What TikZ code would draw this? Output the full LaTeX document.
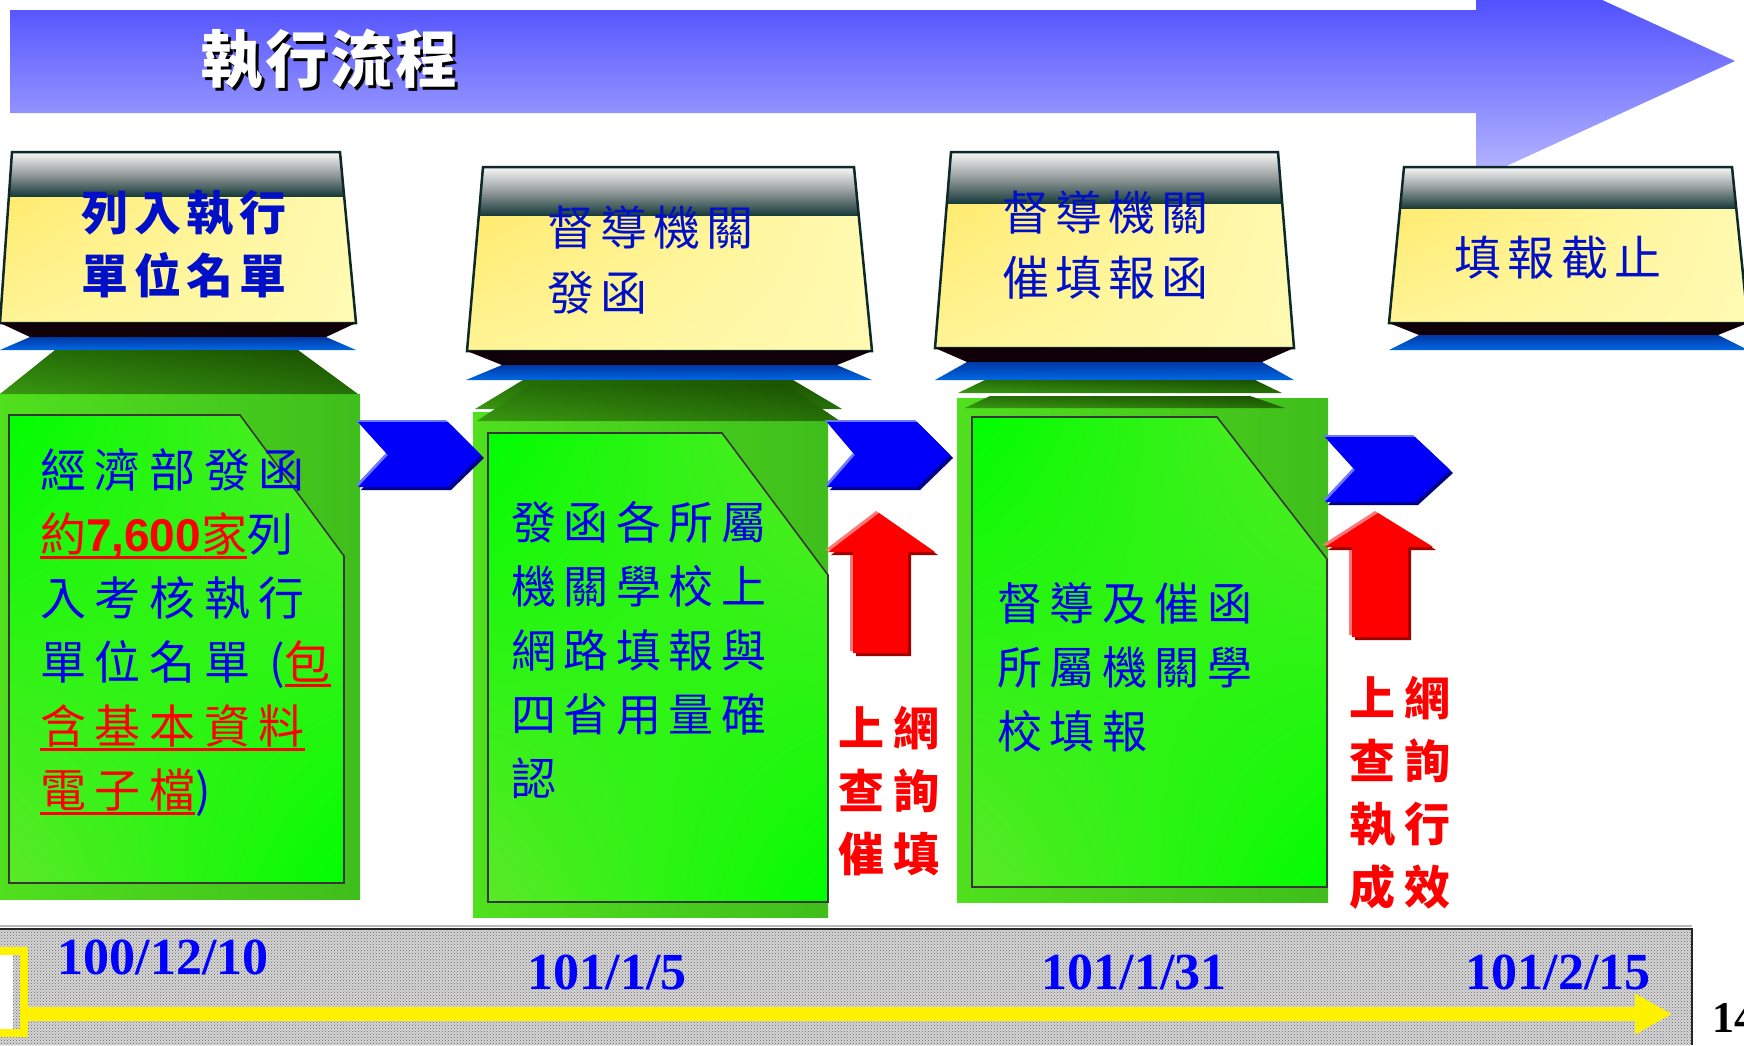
\documentclass[tikz,border=0pt]{standalone}
\usepackage{fontspec}
\usepackage{xcolor}
\setmainfont{Liberation Serif}
\newfontfamily\cjk{Noto Sans CJK TC}
\newfontfamily\arialfont{Liberation Sans}
% 底線(粗線,位於基線下方)
\newsavebox{\ulinebin}
\newcommand{\ulinebox}[1]{\sbox{\ulinebin}{#1}\rlap{\rule[-8pt]{\wd\ulinebin}{3pt}}\usebox{\ulinebin}}
% 顏色
\definecolor{arrtop}{RGB}{48,48,255}
\definecolor{arrbot}{RGB}{185,185,255}
\definecolor{hdrline}{RGB}{12,40,40}
\definecolor{bandtop}{RGB}{248,248,248}
\definecolor{bandmid}{RGB}{150,156,156}
\definecolor{bandbot}{RGB}{25,60,60}
\definecolor{yelA}{RGB}{255,232,96}
\definecolor{yelB}{RGB}{255,250,178}
\definecolor{yelC}{RGB}{255,244,150}
\definecolor{shadowk}{RGB}{16,0,8}
\definecolor{blueA}{RGB}{0,56,165}
\definecolor{blueB}{RGB}{0,104,226}
\definecolor{gtopA}{RGB}{26,78,0}
\definecolor{gtopB}{RGB}{38,112,8}
\definecolor{gtopC}{RGB}{58,152,18}
\definecolor{gbox}{RGB}{80,224,30}
\definecolor{gboxd}{RGB}{64,190,28}
\definecolor{gdocA}{RGB}{0,255,0}
\definecolor{gdocB}{RGB}{92,232,40}
\definecolor{docline}{RGB}{55,55,55}
\definecolor{chev}{RGB}{0,0,250}
\definecolor{chevlt}{RGB}{110,120,255}
\definecolor{chevdk}{RGB}{0,0,140}
\definecolor{arrlt}{RGB}{255,120,120}
\definecolor{arrdk}{RGB}{160,0,0}
\definecolor{hdrblue}{RGB}{0,16,200}
\definecolor{txtblue}{RGB}{0,0,235}
\definecolor{dateblue}{RGB}{0,0,255}
\definecolor{tlgray}{RGB}{214,214,214}
\usetikzlibrary{arrows.meta,patterns,shadings}

\begin{document}
\begin{tikzpicture}[x=1pt, y=-1pt,
    every node/.style={inner sep=0pt, outer sep=0pt},
    hdrtext/.style={font=\cjk\fontsize{47}{65}\selectfont\addfontfeature{LetterSpace=13}, text=hdrblue, align=left},
    hdrbold/.style={font=\cjk\bfseries\fontsize{47}{63}\selectfont\addfontfeature{LetterSpace=12}, text=hdrblue, align=center},
    bodytext/.style={font=\cjk\fontsize{45}{64}\selectfont\addfontfeature{LetterSpace=17}, text=txtblue, align=left},
    bodywide/.style={font=\cjk\fontsize{46}{64}\selectfont\addfontfeature{LetterSpace=19}, text=txtblue, align=left},
    notetext/.style={font=\cjk\bfseries\fontsize{46}{63}\selectfont\addfontfeature{LetterSpace=20}, text=red, align=center},
    datetext/.style={font=\bfseries\fontsize{52}{60}\selectfont, text=dateblue},
    hdredge/.style={draw=hdrline, line width=2.5pt},
    docedge/.style={draw=docline, line width=1.6pt}]
    \useasboundingbox (0,0) rectangle (1744,1045);
    \clip (0,0) rectangle (1744,1045);
    \fill[white] (0,0) rectangle (1744,1045);

    % 頂部大箭頭與標題
    \shade[top color=arrtop, bottom color=arrbot]
        (10,10) -- (1476,10) -- (1476,-58) -- (1735,61) -- (1476,180) -- (1476,113) -- (10,113) -- cycle;
    \node[font=\cjk\bfseries\fontsize{62}{70}\selectfont\addfontfeature{LetterSpace=5}, text=black] (titleshadow) at (332,62) {執行流程};
    \node[font=\cjk\bfseries\fontsize{62}{70}\selectfont\addfontfeature{LetterSpace=5}, text=white] (title) at (329,59) {執行流程};

    % 第一站:列入執行單位名單
    \begin{scope}
        \clip (12,152) -- (340,152) -- (356,323) -- (0,323) -- cycle;
        \shade[upper left=yelA, upper right=yelB, lower left=yelC, lower right=yelB] (0,152) rectangle (356,323);
        \shade[top color=bandtop, bottom color=bandbot, middle color=bandmid] (0,152) rectangle (356,196);
    \end{scope}
    \draw[hdredge] (12,152) -- (340,152) -- (356,323) -- (0,323) -- cycle;
    \fill[shadowk] (0,323) -- (356,323) -- (326,337) -- (30,337) -- cycle;
    \shade[top color=blueA, bottom color=blueB] (30,337) -- (326,337) -- (356,350) -- (0,350) -- cycle;

    % 第二站:督導機關發函
    \begin{scope}
        \clip (483,167) -- (854,167) -- (872,351) -- (467,351) -- cycle;
        \shade[upper left=yelA, upper right=yelB, lower left=yelC, lower right=yelB] (467,167) rectangle (872,351);
        \shade[top color=bandtop, bottom color=bandbot, middle color=bandmid] (467,167) rectangle (872,215);
    \end{scope}
    \draw[hdredge] (483,167) -- (854,167) -- (872,351) -- (467,351) -- cycle;
    \fill[shadowk] (467,351) -- (872,351) -- (837,365) -- (502,365) -- cycle;
    \shade[top color=blueA, bottom color=blueB] (502,365) -- (837,365) -- (872,380) -- (466,380) -- cycle;

    % 第三站:督導機關催填報函
    \begin{scope}
        \clip (951,152) -- (1278,152) -- (1294,348) -- (935,348) -- cycle;
        \shade[upper left=yelA, upper right=yelB, lower left=yelC, lower right=yelB] (935,152) rectangle (1294,348);
        \shade[top color=bandtop, bottom color=bandbot, middle color=bandmid] (935,152) rectangle (1294,203);
    \end{scope}
    \draw[hdredge] (951,152) -- (1278,152) -- (1294,348) -- (935,348) -- cycle;
    \fill[shadowk] (935,348) -- (1294,348) -- (1262,362) -- (967,362) -- cycle;
    \shade[top color=blueA, bottom color=blueB] (967,362) -- (1262,362) -- (1294,380) -- (935,380) -- cycle;

    % 第四站:填報截止
    \begin{scope}
        \clip (1404,167) -- (1732,167) -- (1748,323) -- (1389,323) -- cycle;
        \shade[upper left=yelA, upper right=yelB, lower left=yelC, lower right=yelB] (1389,167) rectangle (1748,323);
        \shade[top color=bandtop, bottom color=bandbot, middle color=bandmid] (1389,167) rectangle (1748,208);
    \end{scope}
    \draw[hdredge] (1404,167) -- (1732,167) -- (1748,323) -- (1389,323) -- cycle;
    \fill[shadowk] (1389,323) -- (1748,323) -- (1718,335) -- (1419,335) -- cycle;
    \shade[top color=blueA, bottom color=blueB] (1419,335) -- (1718,335) -- (1748,350) -- (1389,350) -- cycle;

    % 綠色文件框
    \shade[left color=gbox, right color=gboxd] (0,394) rectangle (360,899);
    \shade[upper left=gtopB, upper right=gtopA, lower left=gtopC, lower right=gtopB] (55,350) -- (298,350) -- (358,394) -- (0,394) -- cycle;
    \shade[upper left=gdocA, lower right=gdocA, upper right=gdocB, lower left=gdocB]
        (9,415) -- (240,415) -- (344,556) -- (344,883) -- (9,883) -- cycle;
    \draw[docedge] (9,415) -- (240,415) -- (344,556) -- (344,883) -- (9,883) -- cycle;

    \shade[left color=gbox, right color=gboxd] (473,412) rectangle (828,917);
    \shade[upper left=gtopB, upper right=gtopA, lower left=gtopC, lower right=gtopB] (523,380) -- (793,380) -- (842,409) -- (475,409) -- cycle;
    \shade[upper left=gtopB, upper right=gtopA, lower left=gtopC, lower right=gtopB] (532,384) -- (785,384) -- (840,421) -- (477,421) -- cycle;
    \shade[upper left=gdocA, lower right=gdocA, upper right=gdocB, lower left=gdocB]
        (488,433) -- (722,433) -- (828,575) -- (828,902) -- (488,902) -- cycle;
    \draw[docedge] (488,433) -- (722,433) -- (828,575) -- (828,902) -- (488,902) -- cycle;

    \shade[left color=gbox, right color=gboxd] (957,398) rectangle (1328,902);
    \shade[upper left=gtopB, upper right=gtopA, lower left=gtopC, lower right=gtopB] (985,380) -- (1255,380) -- (1282,393) -- (958,393) -- cycle;
    \shade[upper left=gtopB, upper right=gtopA, lower left=gtopC, lower right=gtopB] (990,396) -- (1250,396) -- (1285,408) -- (965,408) -- cycle;
    \shade[upper left=gdocA, lower right=gdocA, upper right=gdocB, lower left=gdocB]
        (972,417) -- (1217,417) -- (1327,559) -- (1327,887) -- (972,887) -- cycle;
    \draw[docedge] (972,417) -- (1217,417) -- (1327,559) -- (1327,887) -- (972,887) -- cycle;

    % 藍色箭頭(步驟之間)
    \fill[chevlt, shift={(-2,-2)}] (358,422) -- (448,422) -- (481,455) -- (448,487) -- (358,487) -- (388,455) -- cycle;
    \fill[chevdk, shift={(3,3)}] (358,422) -- (448,422) -- (481,455) -- (448,487) -- (358,487) -- (388,455) -- cycle;
    \fill[chev] (358,422) -- (448,422) -- (481,455) -- (448,487) -- (358,487) -- (388,455) -- cycle;
    \fill[chevlt, shift={(-2,-2)}] (827,422) -- (917,422) -- (950,455) -- (917,487) -- (827,487) -- (855,455) -- cycle;
    \fill[chevdk, shift={(3,3)}] (827,422) -- (917,422) -- (950,455) -- (917,487) -- (827,487) -- (855,455) -- cycle;
    \fill[chev] (827,422) -- (917,422) -- (950,455) -- (917,487) -- (827,487) -- (855,455) -- cycle;
    \fill[chevlt, shift={(-2,-2)}] (1325,437) -- (1415,437) -- (1450,470) -- (1415,502) -- (1325,502) -- (1355,470) -- cycle;
    \fill[chevdk, shift={(3,3)}] (1325,437) -- (1415,437) -- (1450,470) -- (1415,502) -- (1325,502) -- (1355,470) -- cycle;
    \fill[chev] (1325,437) -- (1415,437) -- (1450,470) -- (1415,502) -- (1325,502) -- (1355,470) -- cycle;

    % 紅色向上箭頭
    \fill[arrlt, shift={(-3,-2)}] (879,513) -- (935,552) -- (908,552) -- (908,653) -- (853,653) -- (853,552) -- (828,552) -- cycle;
    \fill[arrdk, shift={(3,3)}] (879,513) -- (935,552) -- (908,552) -- (908,653) -- (853,653) -- (853,552) -- (828,552) -- cycle;
    \fill[red] (879,513) -- (935,552) -- (908,552) -- (908,653) -- (853,653) -- (853,552) -- (828,552) -- cycle;
    \fill[arrlt, shift={(-3,-2)}] (1378,513) -- (1433,547) -- (1408,547) -- (1408,637) -- (1352,637) -- (1352,547) -- (1325,547) -- cycle;
    \fill[arrdk, shift={(3,3)}] (1378,513) -- (1433,547) -- (1408,547) -- (1408,637) -- (1352,637) -- (1352,547) -- (1325,547) -- cycle;
    \fill[red] (1378,513) -- (1433,547) -- (1408,547) -- (1408,637) -- (1352,637) -- (1352,547) -- (1325,547) -- cycle;

    % 各站標題
    \node[hdrbold] (hdrA) at (184,244) {列入執行\\單位名單};
    \node[hdrtext, anchor=west] (hdrB) at (547,260) {督導機關\\發函};
    \node[hdrtext, anchor=west] (hdrC) at (1002,245) {督導機關\\催填報函};
    \node[hdrtext] (hdrD) at (1558,258) {填報截止};

    % 文件內文
    \node[bodywide, anchor=west] (txtA) at (40,632) {經濟部發函\\
        \textcolor{red}{\ulinebox{約{\arialfont\bfseries 7,600}家}}列\\
        入考核執行\\
        單位名單 (\textcolor{red}{\ulinebox{包}}\\
        \textcolor{red}{\ulinebox{含基本資料}}\\
        \textcolor{red}{\ulinebox{電子檔}})};
    \node[bodytext, anchor=west] (txtB) at (511,650) {發函各所屬\\機關學校上\\網路填報與\\四省用量確\\認};
    \node[bodytext, anchor=west] (txtC) at (997,667) {督導及催函\\所屬機關學\\校填報};

    % 紅字說明
    \node[notetext] (noteB) at (889,791) {上網\\查詢\\催填};
    \node[notetext] (noteC) at (1400,793) {上網\\查詢\\執行\\成效};

    % 底部時間軸
    \fill[tlgray] (0,928) rectangle (1692,1045);
    \fill[pattern=crosshatch dots, pattern color=black!60] (0,928) rectangle (1692,1045);
    \draw[gray!55, line width=2pt] (0,926) -- (1692,926);
    \draw[black!85, line width=2pt] (0,929) -- (1692,929) -- (1692,1045);
    \fill[white] (0,955) rectangle (13,1030);
    \draw[yellow, line width=8pt] (-30,951) rectangle (24,1033);
    \coordinate (tlstart) at (24,1014);
    \coordinate (tlend) at (1672,1014);
    \draw[yellow, line width=14pt, -{Triangle[length=37pt, width=38pt]}] (tlstart) -- (tlend);
    \node[datetext] (dateA) at (163,957) {100/12/10};
    \node[datetext] (dateB) at (607,972) {101/1/5};
    \node[datetext] (dateC) at (1134,972) {101/1/31};
    \node[datetext] (dateD) at (1558,972) {101/2/15};
    \node[font=\bfseries\fontsize{44}{50}\selectfont, text=black, anchor=west] (pageno) at (1712,1018) {14};
\end{tikzpicture}
\end{document}
